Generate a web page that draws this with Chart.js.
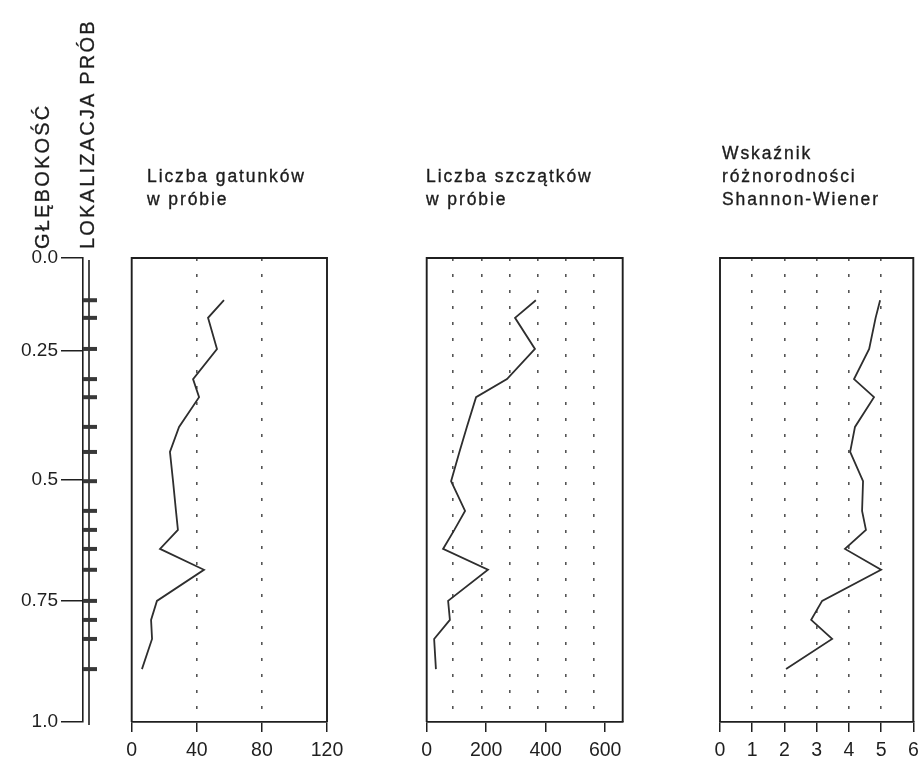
<!DOCTYPE html>
<html>
<head>
<meta charset="utf-8">
<script src="https://cdn.jsdelivr.net/npm/chart.js@4/dist/chart.umd.min.js"></script>
<style>
  html, body { margin: 0; padding: 0; background: #fff; width: 920px; height: 760px; overflow: hidden; }
  #wrap { position: relative; width: 920px; height: 760px; overflow: hidden; }
  canvas { position: absolute; left: 0; top: 0; }
  .ttl { position: absolute; font-family: "Liberation Sans", Arial, sans-serif; font-size: 17.5px;
         letter-spacing: 1.9px; line-height: 23px; color: #1c1c1c; white-space: nowrap;
         -webkit-text-stroke: 0.35px #1c1c1c; }
  .vert { position: absolute; font-family: "Liberation Sans", Arial, sans-serif; font-size: 20px;
          letter-spacing: 2.2px; line-height: 22px; color: #1c1c1c; white-space: nowrap;
          -webkit-text-stroke: 0.3px #1c1c1c;
          transform: rotate(-90deg); transform-origin: left top; }
</style>
</head>
<body>
<div id="wrap">
  <canvas id="cDepth" width="1000" height="760"></canvas>
  <canvas id="cSpecies" width="1000" height="760"></canvas>
  <canvas id="cRemains" width="1000" height="760"></canvas>
  <canvas id="cShannon" width="1000" height="760"></canvas>

  <div class="vert" style="left:31px; top:249px;">GŁĘBOKOŚĆ</div>
  <div class="vert" style="left:76px; top:249px;">LOKALIZACJA PRÓB</div>

  <div class="ttl" style="left:147px; top:165px;">Liczba gatunków<br>w próbie</div>
  <div class="ttl" style="left:426px; top:165px;">Liczba szczątków<br>w próbie</div>
  <div class="ttl" style="left:722px; top:142px;">Wskaźnik<br>różnorodności<br>Shannon-Wiener</div>
</div>

<script>
// sample positions along the core (0 = top, 1 = bottom of the profile)
const sampleDepth = [0.091, 0.129, 0.196, 0.261, 0.300, 0.364, 0.418, 0.481,
                     0.545, 0.586, 0.627, 0.672, 0.739, 0.780, 0.821, 0.886];

const speciesCount = [56.7, 46.9, 52.4, 37.7, 41.4, 29.1, 23.5, 25.4,
                      27.2, 28.4, 17.4, 44.4, 15.5, 11.9, 12.5, 6.3];
const remainsCount = [367, 297, 364, 270, 166, 135, 110, 82,
                      129, 93, 55, 206, 72, 78, 25, 31];
const shannonIndex = [4.97, 4.83, 4.63, 4.16, 4.78, 4.19, 4.04, 4.44,
                      4.41, 4.53, 3.88, 5.0, 3.17, 2.83, 3.48, 2.05];

// depth axis
const depthTickPos = [0, 0.2, 0.478, 0.739, 1];
const depthTickLabels = ['0.0', '0.25', '0.5', '0.75', '1.0'];

// x axes of the three panels
const speciesTicks = [0, 40, 80, 120];
const speciesGrid = [40, 80];
const remainsTicks = [0, 200, 400, 600];
const remainsGrid = [89, 185, 278, 372, 467, 563];
const shannonTicks = [0, 1, 2, 3, 4, 5, 6];
const shannonGrid = [1, 2, 3, 4, 5];

const INK = '#1f1f1f';
const FONT = '"Liberation Sans", Arial, sans-serif';
const TOP = 258;      // top of plot frames
const AXIS_H = 38;    // space under the frames for the x axis

// frame around a panel (bottom edge is the x axis itself)
const framePlugin = {
    id: 'frame',
    afterDraw(chart) {
        const a = chart.chartArea;
        const ctx = chart.ctx;
        ctx.save();
        ctx.strokeStyle = INK;
        ctx.lineWidth = 1.9;
        ctx.beginPath();
        ctx.moveTo(a.left, a.bottom);
        ctx.lineTo(a.left, a.top);
        ctx.lineTo(a.right, a.top);
        ctx.lineTo(a.right, a.bottom);
        ctx.stroke();
        ctx.restore();
    }
};

// second vertical line of the sample-location column
const columnPlugin = {
    id: 'column',
    beforeDatasetsDraw(chart) {
        const a = chart.chartArea;
        const ctx = chart.ctx;
        ctx.save();
        ctx.strokeStyle = INK;
        ctx.lineWidth = 1.6;
        ctx.beginPath();
        ctx.moveTo(a.left + 6, a.top + 2);
        ctx.lineTo(a.left + 6, a.bottom + 3);
        ctx.stroke();
        ctx.restore();
    }
};

new Chart(document.getElementById('cDepth'), {
    type: 'scatter',
    data: {
        datasets: [{
            data: sampleDepth.map(d => ({ x: 0.5, y: d })),
            pointStyle: 'line',
            pointRadius: 7,
            pointBorderWidth: 4,
            pointBorderColor: '#383838',
            clip: false
        }]
    },
    options: {
        responsive: false,
        animation: false,
        events: [],
        layout: { padding: { left: 0, right: 1000 - 97, top: TOP, bottom: AXIS_H } },
        plugins: { legend: { display: false }, tooltip: { enabled: false } },
        scales: {
            x: { type: 'linear', min: 0, max: 1, display: false },
            y: {
                type: 'linear', min: 0, max: 1, reverse: true, position: 'left',
                afterBuildTicks: s => { s.ticks = depthTickPos.map(v => ({ value: v })); },
                afterFit: s => { s.width = 83; },
                ticks: {
                    padding: 3,
                    color: INK,
                    font: { family: FONT, size: 19 },
                    callback: (v, i) => depthTickLabels[i]
                },
                grid: { drawOnChartArea: false, drawTicks: true, tickLength: 22, color: INK, lineWidth: 1.5 },
                border: { display: true, color: INK, width: 1.6 }
            }
        }
    },
    plugins: [columnPlugin]
});

function makePanel(id, values, left, right, xMax, tickVals, gridVals) {
    return new Chart(document.getElementById(id), {
        type: 'scatter',
        data: {
            datasets: [{
                data: values.map((v, i) => ({ x: v, y: sampleDepth[i] })),
                showLine: true,
                borderColor: '#2e2e2e',
                borderWidth: 1.8,
                pointRadius: 0,
                tension: 0,
                clip: false
            }]
        },
        options: {
            responsive: false,
            animation: false,
            events: [],
            layout: { padding: { left: left, right: 1000 - right, top: TOP, bottom: 0 } },
            plugins: { legend: { display: false }, tooltip: { enabled: false } },
            scales: {
                y: { type: 'linear', min: 0, max: 1, reverse: true, display: false },
                x: {
                    type: 'linear', min: 0, max: xMax, position: 'bottom',
                    afterBuildTicks: s => { s.ticks = tickVals.map(v => ({ value: v })); },
                    afterFit: s => { s.height = AXIS_H; },
                    ticks: {
                        padding: 7,
                        color: INK,
                        autoSkip: false,
                        maxRotation: 0,
                        font: { family: FONT, size: 19.5 }
                    },
                    grid: { drawOnChartArea: false, drawTicks: true, tickLength: 10, color: INK, lineWidth: 1.5 },
                    border: { display: true, color: INK, width: 1.8 }
                },
                xg: {
                    type: 'linear', min: 0, max: xMax, position: 'top',
                    afterBuildTicks: s => { s.ticks = gridVals.map(v => ({ value: v })); },
                    afterFit: s => { s.height = 0; },
                    ticks: { display: false },
                    grid: { drawOnChartArea: true, drawTicks: false, color: '#555', lineWidth: 1.6 },
                    border: { display: false, dash: [3, 13] }
                }
            }
        },
        plugins: [framePlugin]
    });
}

makePanel('cSpecies', speciesCount, 131.7, 327, 120, speciesTicks, speciesGrid);
makePanel('cRemains', remainsCount, 426.7, 622.7, 659, remainsTicks, remainsGrid);
makePanel('cShannon', shannonIndex, 720, 913.3, 6, shannonTicks, shannonGrid);
</script>
</body>
</html>
